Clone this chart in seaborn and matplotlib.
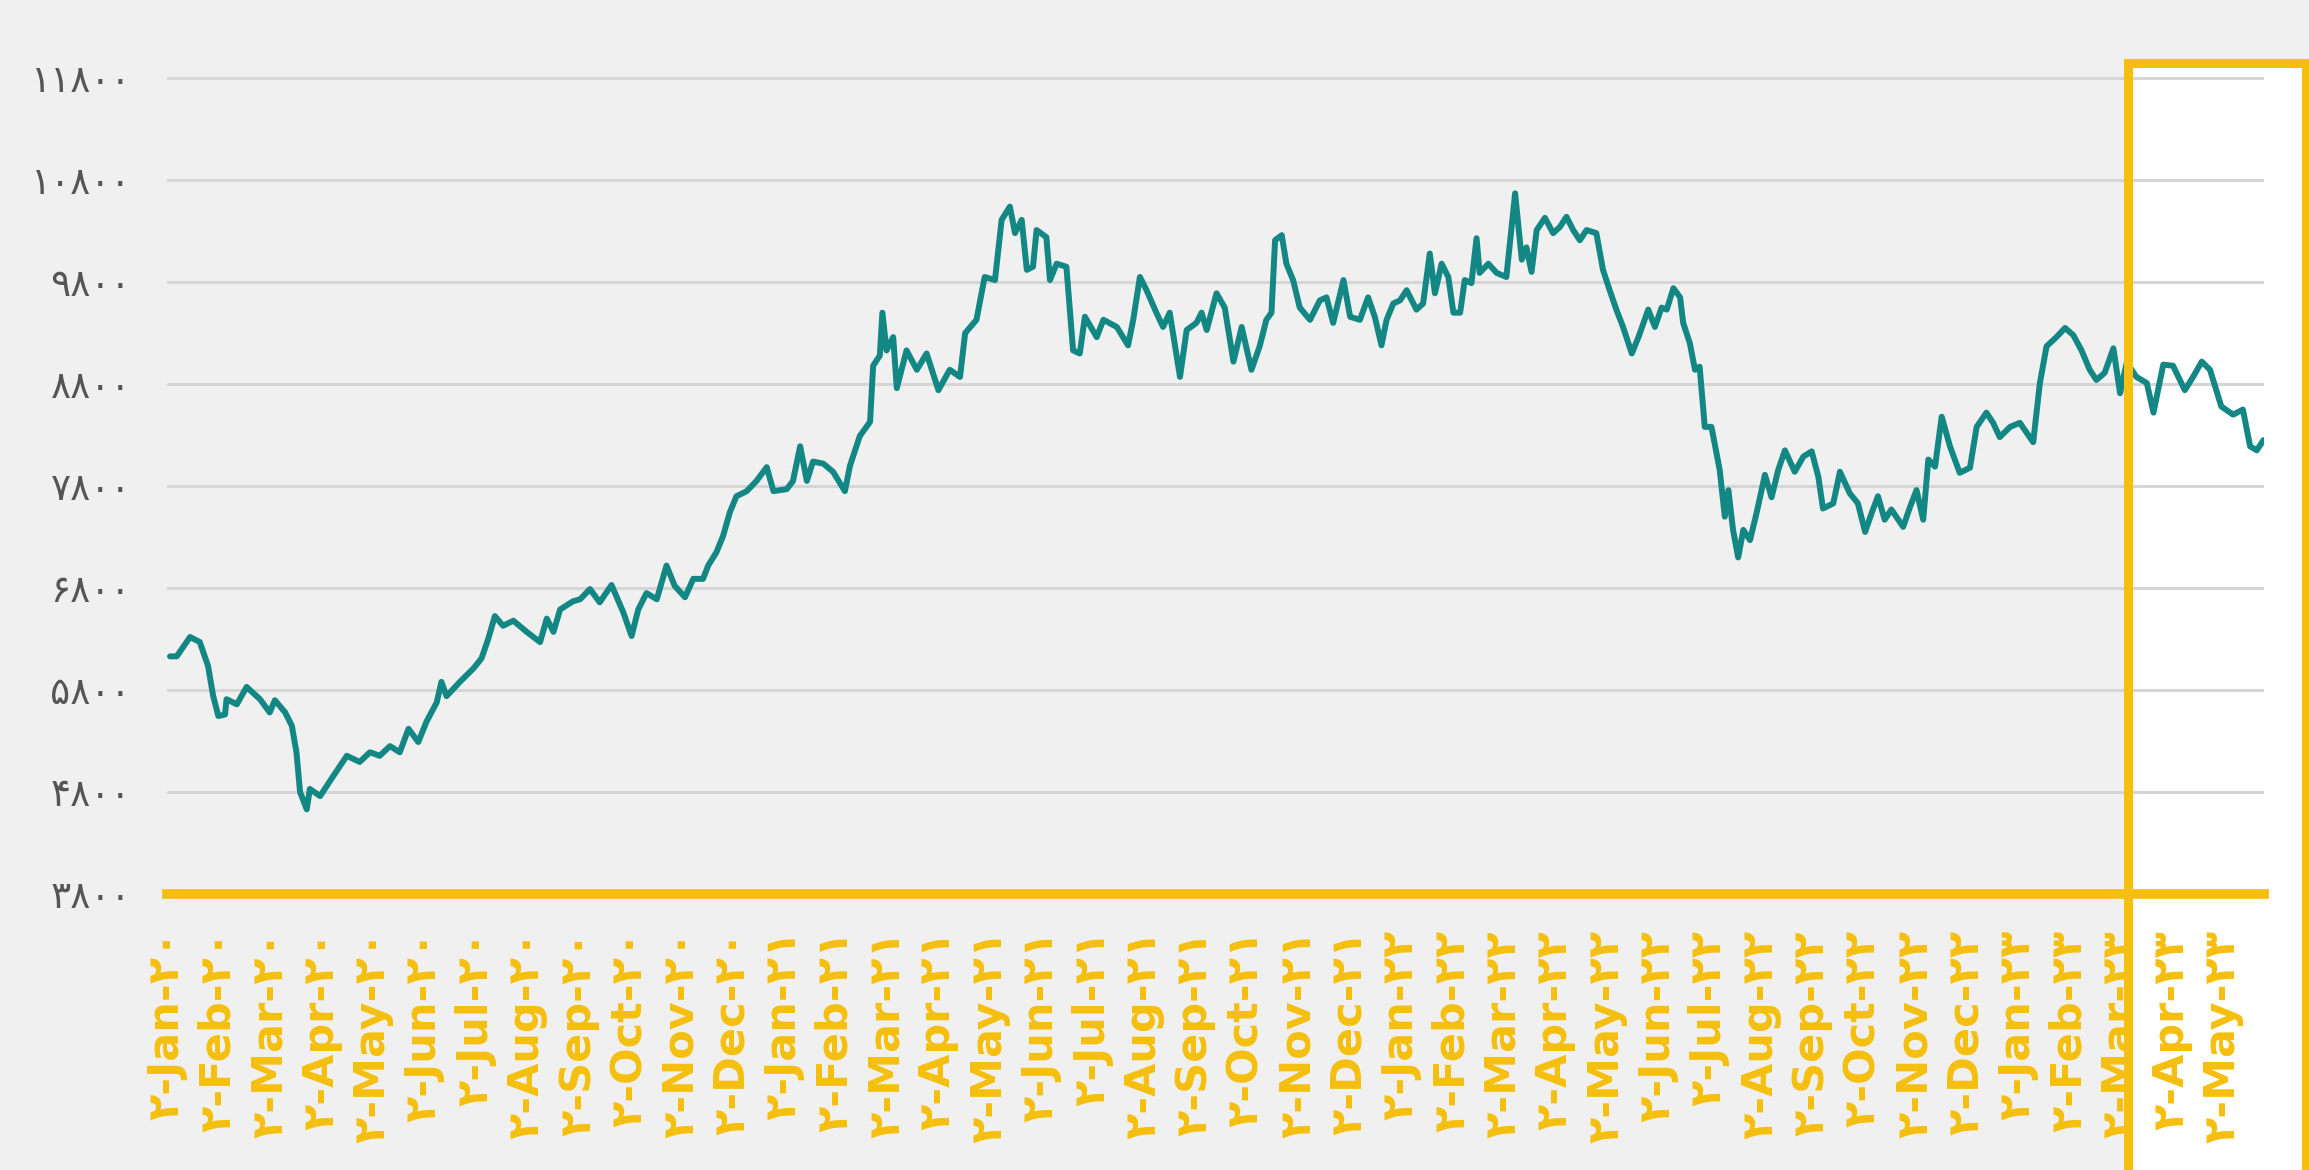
import pandas as pd
from matplotlib import pyplot as plt
from matplotlib.patches import Rectangle
import seaborn as sns

# x = months since Jan 2020 (0 = Jan-20)
month_pos = [
    0.06, 0.19, 0.45, 0.64, 0.80, 0.90, 1.00, 1.13, 1.16, 1.36, 1.55, 1.81, 2.00, 2.10, 2.30, 2.43,
    2.52, 2.59, 2.72, 2.78, 2.98, 3.24, 3.50, 3.75, 3.95, 4.14, 4.34, 4.53, 4.70, 4.89, 5.05, 5.25,
    5.34, 5.44, 5.70, 5.96, 6.12, 6.25, 6.38, 6.54, 6.74, 7.00, 7.26, 7.39, 7.52, 7.65, 7.90,
    8.04, 8.23, 8.42, 8.65, 8.88, 9.04, 9.17, 9.33, 9.53, 9.72, 9.88, 10.08, 10.24, 10.43, 10.53,
    10.69, 10.82, 10.95, 11.08, 11.28, 11.47, 11.67, 11.80, 12.06, 12.18, 12.32, 12.45, 12.57, 12.77,
    12.96, 13.19, 13.29, 13.48, 13.68, 13.74, 13.87, 13.92, 14.00, 14.13, 14.20, 14.39, 14.59, 14.78,
    15.01, 15.23, 15.43, 15.53,
    15.75, 15.91, 16.11, 16.24, 16.40, 16.50, 16.63, 16.73, 16.85, 16.92, 17.11, 17.18, 17.31, 17.50,
    17.63, 17.76, 17.86, 18.09, 18.22, 18.48, 18.70, 18.80, 18.93, 19.06, 19.25, 19.38, 19.51, 19.71,
    19.84, 20.03, 20.13, 20.23, 20.42, 20.58, 20.75, 20.91, 21.10, 21.26, 21.39, 21.49, 21.56, 21.69,
    21.78, 21.91, 22.04, 22.24, 22.43, 22.56, 22.69, 22.89, 23.02, 23.21, 23.37, 23.50, 23.63, 23.73,
    23.86, 23.99,
    24.12, 24.31, 24.44, 24.57, 24.67, 24.80, 24.93, 25.03, 25.16, 25.25, 25.38, 25.48, 25.54, 25.71,
    25.87, 26.06, 26.23, 26.36, 26.45, 26.55, 26.65, 26.81, 26.97, 27.10, 27.23, 27.36, 27.49, 27.62,
    27.81, 27.94, 28.07, 28.20, 28.33, 28.50, 28.63, 28.82, 28.95, 29.08, 29.18, 29.31, 29.44, 29.50,
    29.63, 29.73, 29.82, 29.92, 30.05, 30.21, 30.31, 30.38, 30.47, 30.57, 30.67, 30.80, 30.93, 31.09,
    31.22, 31.35, 31.48, 31.67, 31.84,
    32.00, 32.13, 32.22, 32.42, 32.55, 32.74, 32.90, 33.04, 33.17, 33.29, 33.42, 33.55, 33.78, 33.91,
    34.04, 34.17, 34.27, 34.40, 34.53, 34.69, 34.88, 35.08, 35.21, 35.40, 35.53, 35.66, 35.86, 36.05,
    36.31, 36.44, 36.57, 36.76, 36.93, 37.09, 37.25, 37.41, 37.54, 37.70, 37.87, 38.00, 38.13, 38.32,
    38.52, 38.65, 38.84, 39.03, 39.26, 39.42, 39.59, 39.75, 39.97, 40.20, 40.39, 40.53, 40.66, 40.79,
]

price = [
    6130, 6130, 6320, 6270, 6035, 5740, 5545, 5560, 5710, 5660, 5830, 5710, 5580, 5700, 5580, 5450,
    5190, 4800, 4630, 4830, 4760, 4960, 5155, 5095, 5190, 5155, 5250, 5190, 5420, 5290, 5490, 5680,
    5880, 5740, 5880, 6010, 6110, 6300, 6525, 6430, 6480, 6370, 6270, 6500, 6370, 6590, 6670,
    6690, 6790, 6660, 6830, 6560, 6330, 6590, 6750, 6690, 7020, 6820, 6710, 6890, 6890, 7020,
    7150, 7310, 7540, 7700, 7750, 7850, 7985, 7750, 7770, 7850, 8190, 7850, 8040, 8020,
    7940, 7750, 8000, 8290, 8430, 8980, 9080, 9500, 9130, 9260, 8760, 9130, 8940, 9100,
    8740, 8940, 8870, 9300,
    9430, 9850, 9820, 10410, 10540, 10280, 10410, 9920, 9950, 10310, 10240, 9820, 9980, 9950,
    9130, 9100, 9460, 9260, 9430, 9360, 9180, 9430, 9850, 9720, 9500, 9360, 9500, 8870,
    9330, 9400, 9500, 9330, 9690, 9550, 9020, 9360, 8940, 9170, 9430, 9500, 10210, 10260,
    9980, 9820, 9550, 9430, 9620, 9650, 9400, 9820, 9460, 9430, 9650, 9460, 9180, 9430,
    9590, 9620,
    9720, 9530, 9590, 10080, 9690, 9980, 9850, 9500, 9500, 9820, 9790, 10230, 9890, 9980,
    9890, 9850, 10670, 10020, 10140, 9900, 10310, 10430, 10280, 10340, 10440, 10310, 10210, 10310,
    10280, 9920, 9720, 9530, 9360, 9100, 9260, 9530, 9360, 9550, 9530, 9740, 9650, 9400,
    9200, 8940, 8970, 8380, 8380, 7960, 7500, 7760, 7370, 7100, 7370, 7270, 7540, 7910,
    7690, 7960, 8150, 7940, 8090,
    8140, 7890, 7580, 7630, 7940, 7730, 7630, 7350, 7540, 7700, 7470, 7570, 7400, 7590,
    7760, 7470, 8060, 7990, 8480, 8190, 7930, 7980, 8380, 8520, 8420, 8280, 8380, 8420,
    8230, 8810, 9170, 9260, 9350, 9280, 9130, 8940, 8840, 8910, 9150, 8710, 9010, 8870,
    8810, 8520, 8990, 8980, 8740, 8870, 9020, 8940, 8580, 8500, 8550, 8190, 8150, 8250,
]

month_names = ['Jan', 'Feb', 'Mar', 'Apr', 'May', 'Jun',
               'Jul', 'Aug', 'Sep', 'Oct', 'Nov', 'Dec']
tick_years = ['20', '21', '22', '23']
n_months = 41
y_ticks = [3800, 4800, 5800, 6800, 7800, 8800, 9800, 10800, 11800]

highlight_x = (38.15, 41.62)
highlight_top = 11950

TEAL = '#138784'
GOLD = '#f6bf0e'
BG = '#f0f0f0'

fa_digits = str.maketrans('0123456789', '۰۱۲۳۴۵۶۷۸۹')


def fa(s):
    return str(s).translate(fa_digits)


x_labels = []
for i in range(n_months):
    x_labels.append('۲-' + month_names[i % 12] + '-' + fa(tick_years[i // 12]))
y_labels = [fa(v) for v in y_ticks]

if __name__ == '__main__':
    sns.set_style('white', rc={'axes.facecolor': BG, 'figure.facecolor': BG,
                               'grid.color': '#d6d6d6', 'axes.grid': True})
    plt.rcParams['font.family'] = ['DejaVu Sans']

    data = pd.DataFrame({'month': month_pos, 'price': price})

    fig = plt.figure(figsize=(23.09, 11.70), dpi=100)
    ax = fig.add_axes([0.0723, 0.2359, 0.9082, 0.7017])
    ax.set_axisbelow(True)

    sns.lineplot(data=data, x='month', y='price', ax=ax, color=TEAL,
                 linewidth=4.3, sort=False, estimator=None, zorder=2)

    # white highlight area (under the line) and its gold frame (over it)
    w = highlight_x[1] - highlight_x[0]
    ax.add_patch(Rectangle((highlight_x[0], 0), w, highlight_top, facecolor='white',
                           edgecolor='none', clip_on=False, zorder=0.2))
    ax.add_patch(Rectangle((highlight_x[0], 0), w, highlight_top, fill=False,
                           edgecolor=GOLD, linewidth=6.5, clip_on=False, zorder=3))

    ax.set_xlim(0, 40.8)
    ax.set_ylim(3800, 11850)
    ax.set_yticks(y_ticks)
    ax.set_yticklabels(y_labels, fontsize=27, color='#555555')
    ax.set_xticks(range(n_months))
    ax.set_xticklabels(x_labels, rotation=90, fontsize=31, fontweight='bold', color=GOLD)
    ax.tick_params(axis='y', length=0, pad=26)
    ax.tick_params(axis='x', length=0, pad=26)
    ax.grid(axis='x', visible=False)
    ax.grid(axis='y', linewidth=2.2)
    ax.set_xlabel('')
    ax.set_ylabel('')

    for side in ['top', 'right', 'left']:
        ax.spines[side].set_visible(False)
    ax.spines['bottom'].set_color(GOLD)
    ax.spines['bottom'].set_linewidth(7)
    ax.spines['bottom'].set_zorder(2.6)

    plt.savefig('out.png', dpi=100, facecolor=BG)
